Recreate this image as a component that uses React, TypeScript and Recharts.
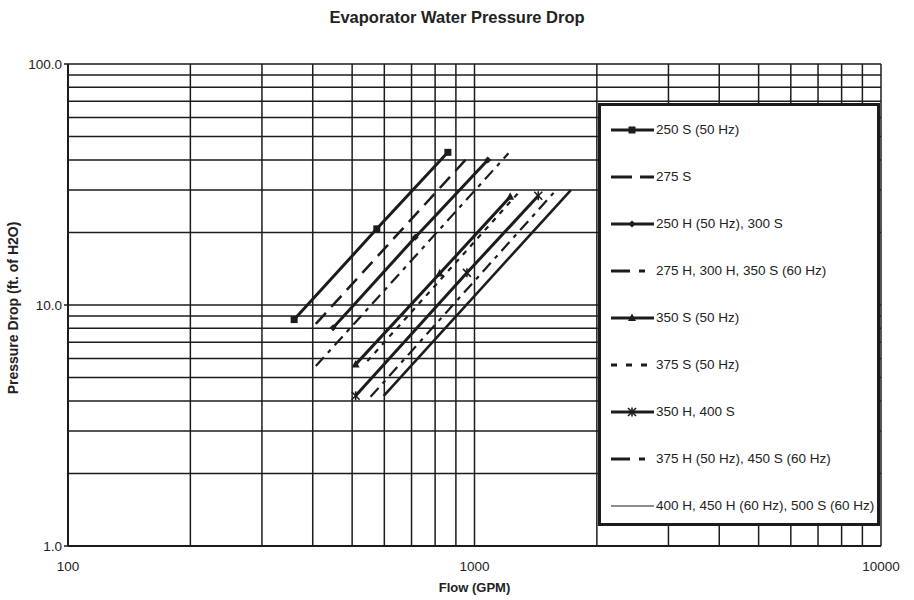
import React from 'react';
import { LineChart, Line, XAxis, YAxis, ReferenceLine } from 'recharts';

const xTicks = [100, 1000, 10000];
const yTicks = [1, 10, 100];
const xGrid = [200, 300, 400, 500, 600, 700, 800, 900, 1000, 2000, 3000, 4000, 5000, 6000, 7000, 8000, 9000, 10000];
const yGrid = [2, 3, 4, 5, 6, 7, 8, 9, 10, 20, 30, 40, 50, 60, 70, 80, 90, 100];

const flow250S = [360, 575, 860];
const pd250S = [8.7, 20.7, 43];
const flow275S = [407, 958];
const pd275S = [8.35, 40.6];
const flow250H = [449, 715, 1078];
const pd250H = [8.05, 19.1, 40];
const flow275H = [407, 1212];
const pd275H = [5.58, 42.6];
const flow350S = [510, 821, 1224];
const pd350S = [5.67, 13.5, 28.1];
const flow375S = [545, 1282];
const pd375S = [5.85, 29.2];
const flow350H = [510, 958, 1435];
const pd350H = [4.2, 13.6, 28.4];
const flow375H = [555, 1571];
const pd375H = [4.16, 29.4];
const flow400H = [598, 1726];
const pd400H = [4.2, 30];

const names = [
  '250 S (50 Hz)',
  '275 S',
  '250 H (50 Hz), 300 S',
  '275 H, 300 H, 350 S (60 Hz)',
  '350 S (50 Hz)',
  '375 S (50 Hz)',
  '350 H, 400 S',
  '375 H (50 Hz), 450 S (60 Hz)',
  '400 H, 450 H (60 Hz), 500 S (60 Hz)',
];

const zip = (xs: number[], ys: number[]) => xs.map((x, i) => ({ x, y: ys[i] }));

type Series = {
  name: string;
  data: { x: number; y: number }[];
  dash?: string;
  legendDash?: string;
  width: number;
  marker?: 'square' | 'diamond' | 'triangle' | 'star';
};

const series: Series[] = [
  { name: names[0], data: zip(flow250S, pd250S), width: 3, marker: 'square' },
  { name: names[1], data: zip(flow275S, pd275S), width: 2.5, dash: '15 8', legendDash: '21 8' },
  { name: names[2], data: zip(flow250H, pd250H), width: 3, marker: 'diamond' },
  { name: names[3], data: zip(flow275H, pd275H), width: 2.2, dash: '12 6 4 6', legendDash: '19 9 6 20' },
  { name: names[4], data: zip(flow350S, pd350S), width: 3, marker: 'triangle' },
  { name: names[5], data: zip(flow375S, pd375S), width: 2.2, dash: '5 6', legendDash: '6 9' },
  { name: names[6], data: zip(flow350H, pd350H), width: 3, marker: 'star' },
  { name: names[7], data: zip(flow375H, pd375H), width: 2.2, dash: '12 6 4 6', legendDash: '19 9 6 20' },
  { name: names[8], data: zip(flow400H, pd400H), width: 2.6 },
];

const INK = '#1c1c1c';

function markerShape(kind: string | undefined, cx: number, cy: number, key: string) {
  if (kind === 'square') {
    return <rect key={key} x={cx - 3.5} y={cy - 3.5} width={7} height={7} fill={INK} />;
  }
  if (kind === 'diamond') {
    return <path key={key} d={`M${cx},${cy - 3.5}L${cx + 3.5},${cy}L${cx},${cy + 3.5}L${cx - 3.5},${cy}Z`} fill={INK} />;
  }
  if (kind === 'triangle') {
    return <path key={key} d={`M${cx},${cy - 4.5}L${cx + 4},${cy + 3}L${cx - 4},${cy + 3}Z`} fill={INK} />;
  }
  if (kind === 'star') {
    return (
      <g key={key} stroke={INK} strokeWidth={1.6}>
        <line x1={cx - 4} y1={cy - 4} x2={cx + 4} y2={cy + 4} />
        <line x1={cx - 4} y1={cy + 4} x2={cx + 4} y2={cy - 4} />
        <line x1={cx} y1={cy - 4.5} x2={cx} y2={cy + 4.5} />
      </g>
    );
  }
  return <g key={key} />;
}

function LegendBox() {
  return (
    <div
      style={{
        position: 'absolute',
        left: 598,
        top: 103,
        width: 276,
        height: 417,
        border: `3px solid ${INK}`,
        background: '#fff',
      }}
    >
      {series.map((s, i) => {
        const cy = 24 + i * 47;
        return (
          <div key={s.name} style={{ position: 'absolute', left: 0, top: cy - 10, height: 20, width: 276 }}>
            <svg width={56} height={20} style={{ position: 'absolute', left: 8, top: 0 }}>
              <line
                x1={2}
                y1={10}
                x2={45}
                y2={10}
                stroke={INK}
                strokeWidth={i === 8 ? 1.2 : 3}
                strokeDasharray={s.legendDash}
              />
              {s.marker ? markerShape(s.marker, 23, 10, 'm') : null}
            </svg>
            <div
              style={{
                position: 'absolute',
                left: 55,
                top: 1,
                fontSize: 13.5,
                lineHeight: '18px',
                color: '#222',
                whiteSpace: 'nowrap',
              }}
            >
              {s.name}
            </div>
          </div>
        );
      })}
    </div>
  );
}

export default function App() {
  return (
    <div
      style={{
        position: 'absolute',
        left: 0,
        top: 0,
        width: 914,
        height: 600,
        background: '#fff',
        fontFamily: '"Liberation Sans", Arial, sans-serif',
      }}
    >
      <LineChart width={914} height={600} margin={{ top: 64, right: 33, bottom: 24, left: 0 }}>
        <XAxis
          dataKey="x"
          type="number"
          scale="log"
          domain={[100, 10000]}
          ticks={xTicks}
          allowDataOverflow
          height={30}
          tickLine={false}
          tickMargin={9}
          axisLine={{ stroke: INK, strokeWidth: 2 }}
          tick={{ fontSize: 13.5, fill: '#222' }}
        />
        <YAxis
          type="number"
          scale="log"
          domain={[1, 100]}
          ticks={yTicks}
          allowDataOverflow
          width={68}
          tickSize={4}
          tickMargin={2}
          tickFormatter={(v: number) => v.toFixed(1)}
          tickLine={{ stroke: INK, strokeWidth: 1.5 }}
          axisLine={{ stroke: INK, strokeWidth: 2 }}
          tick={{ fontSize: 13.5, fill: '#222' }}
        />
        {xGrid.map((v) => (
          <ReferenceLine key={`gx${v}`} x={v} stroke={INK} strokeWidth={1.5} />
        ))}
        {yGrid.map((v) => (
          <ReferenceLine key={`gy${v}`} y={v} stroke={INK} strokeWidth={1.5} />
        ))}
        {series.map((s) => (
          <Line
            key={s.name}
            data={s.data}
            dataKey="y"
            name={s.name}
            type="linear"
            stroke={INK}
            strokeWidth={s.width}
            strokeDasharray={s.dash}
            strokeLinecap="butt"
            isAnimationActive={false}
            dot={
              s.marker
                ? (p: any) => markerShape(s.marker, p.cx, p.cy, `${s.name}-${p.index}`)
                : false
            }
            activeDot={false}
          />
        ))}
      </LineChart>
      <div
        style={{
          position: 'absolute',
          left: 0,
          width: 914,
          top: 8,
          textAlign: 'center',
          fontWeight: 'bold',
          fontSize: 16.5,
          color: '#222',
        }}
      >
        Evaporator Water Pressure Drop
      </div>
      <div
        style={{
          position: 'absolute',
          left: 68,
          width: 813,
          top: 580,
          textAlign: 'center',
          fontWeight: 'bold',
          fontSize: 13,
          color: '#222',
        }}
      >
        Flow (GPM)
      </div>
      <div
        style={{
          position: 'absolute',
          left: 13,
          top: 308,
          transform: 'translate(-50%, -50%) rotate(-90deg)',
          fontWeight: 'bold',
          fontSize: 14,
          color: '#222',
          whiteSpace: 'nowrap',
        }}
      >
        Pressure Drop (ft. of H2O)
      </div>
      <LegendBox />
    </div>
  );
}
